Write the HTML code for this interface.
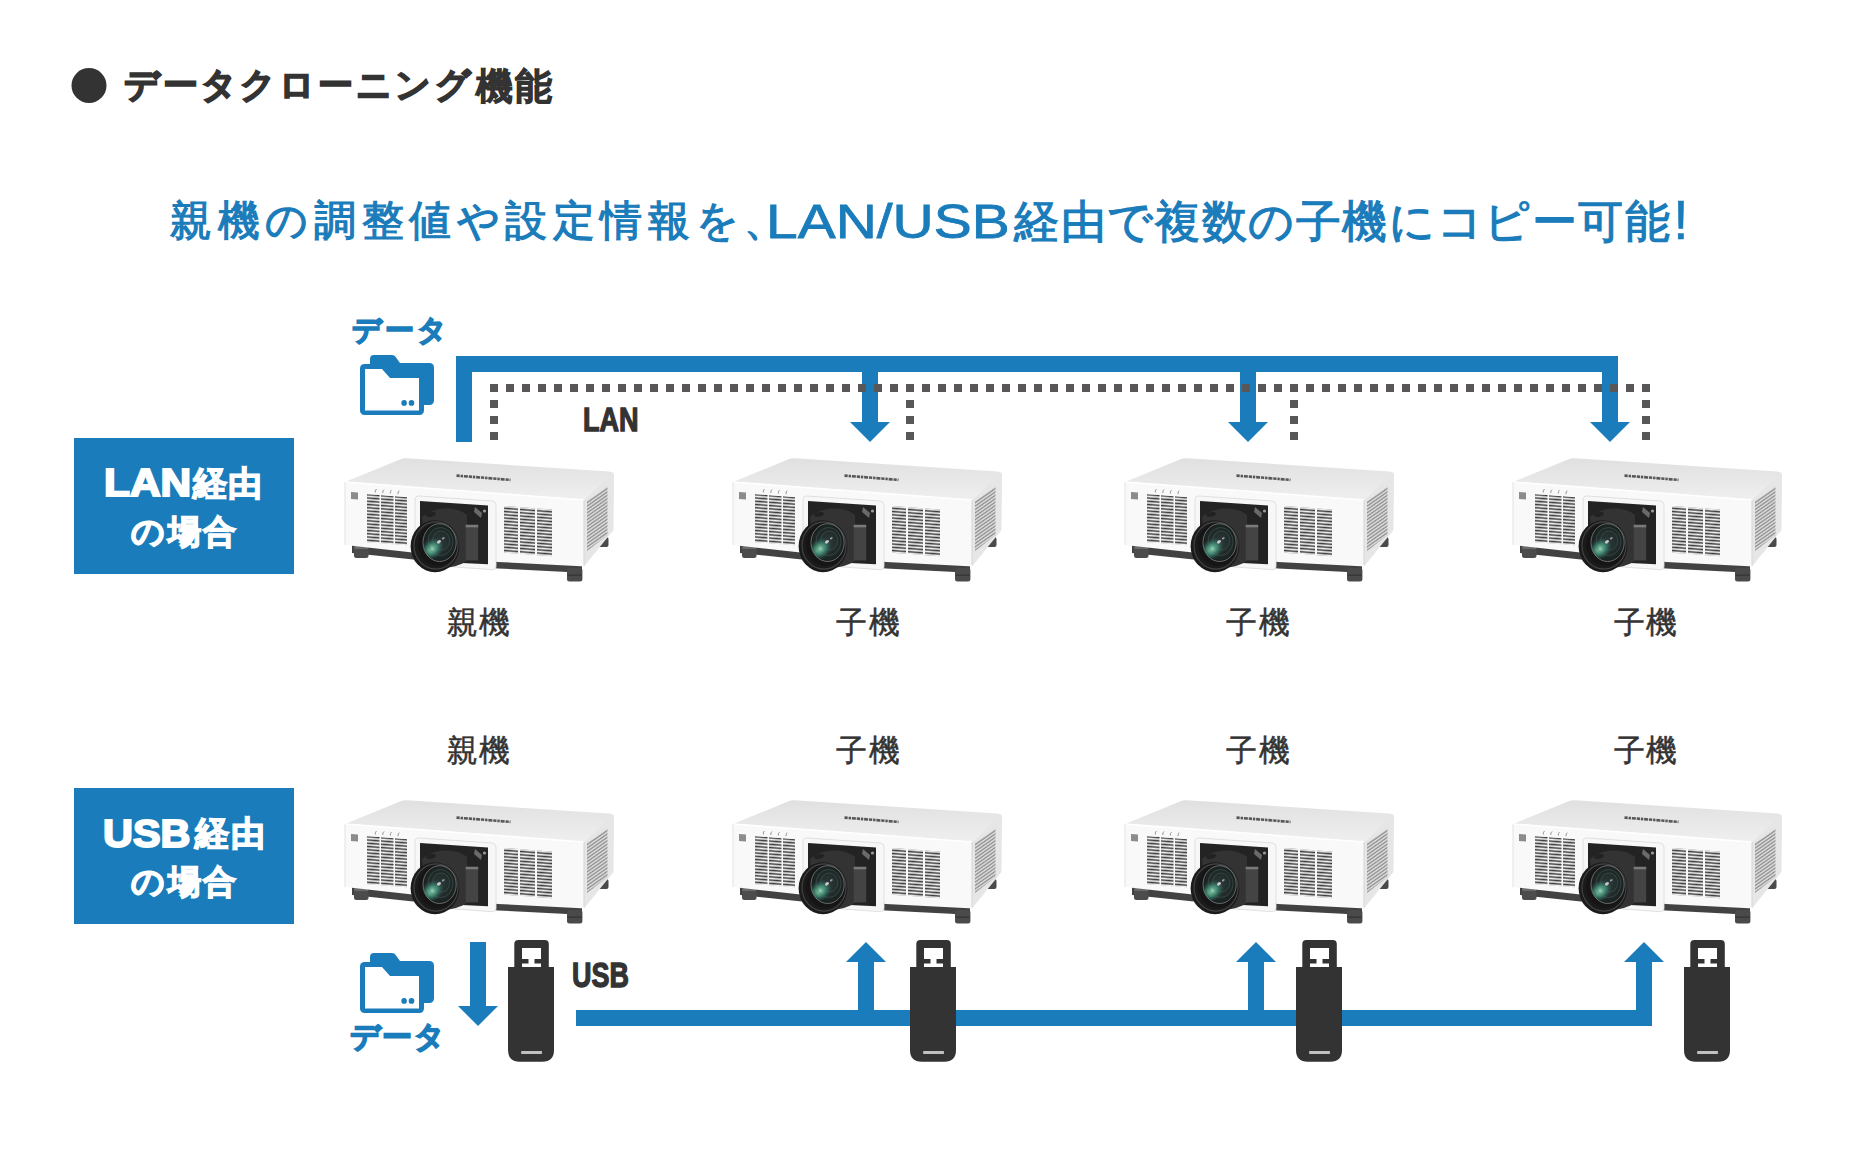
<!DOCTYPE html>
<html lang="ja"><head><meta charset="utf-8"><title>データクローニング機能</title>
<style>
html,body{margin:0;padding:0;background:#fff;}
body{width:1852px;height:1150px;position:relative;overflow:hidden;font-family:"Liberation Sans",sans-serif;}
svg.main{position:absolute;left:0;top:0;}
.t{position:absolute;white-space:nowrap;line-height:1;transform-origin:0 0;}
.box{position:absolute;width:220px;height:136px;background:#1a7cba;}
</style></head>
<body>
<svg class="main" width="1852" height="1150" viewBox="0 0 1852 1150">
<defs>
<pattern id="vent" width="4" height="3.25" patternUnits="userSpaceOnUse">
<rect width="4" height="3.25" fill="#f4f4f4"/><rect y="0.5" width="4" height="1.55" fill="#3a3a3a"/>
</pattern>
<pattern id="sidevent" width="3" height="3.4" patternUnits="userSpaceOnUse" patternTransform="skewY(-35)">
<rect width="3" height="3.4" fill="#e2e2e2"/><rect y="0.5" width="3" height="1.6" fill="#8a8a8a"/>
</pattern>
<linearGradient id="topgrad" x1="0" y1="1" x2="0" y2="0">
<stop offset="0" stop-color="#efefef"/><stop offset="0.6" stop-color="#e6e6e6"/><stop offset="1" stop-color="#e0e0e0"/>
</linearGradient>
<radialGradient id="glass" cx="0.5" cy="0.5" r="0.55">
<stop offset="0" stop-color="#2c3b38"/><stop offset="0.7" stop-color="#1d2826"/><stop offset="1" stop-color="#141a1b"/>
</radialGradient>
<radialGradient id="glow" cx="0.5" cy="0.5" r="0.5">
<stop offset="0" stop-color="#9fe0bf" stop-opacity="0.95"/><stop offset="0.45" stop-color="#4aa585" stop-opacity="0.75"/><stop offset="1" stop-color="#2a6a70" stop-opacity="0"/>
</radialGradient>
<clipPath id="glassclip"><ellipse cx="99.6" cy="92.6" rx="16.6" ry="18.9"/></clipPath>
<symbol id="proj" overflow="visible">
<rect x="258" y="87" width="10.5" height="10" rx="2" fill="#4a4a4a"/>
<path d="M12,94 L158,110 L242,114.5 L242,122.8 L158,118.5 L12,103 Z" fill="#424242"/>
<rect x="14" y="96" width="14.5" height="12" rx="2.5" fill="#4c4c4c"/>
<rect x="14" y="96" width="14.5" height="3" rx="1.5" fill="#6a6a6a"/>
<rect x="227" y="118" width="15.4" height="13.4" rx="2.5" fill="#4a4a4a"/>
<rect x="227.5" y="124.5" width="14.4" height="1.2" fill="#333"/>
<path d="M244,50 L271,23 Q274,21 274,25 L273.5,80 L244,116.5 Z" fill="#e6e6e6"/>
<path d="M247,51 L267.5,36.5 L267.5,85 L247,101 Z" fill="url(#sidevent)"/>
<path d="M5,32 L60,9.5 Q63,8 67,8.3 L269,21.5 Q274,22 271,24.5 L244,50 Z" fill="url(#topgrad)"/>
<path d="M5,32 L244,50 L244,116.5 L241,116.3 L158,112 L5,95 Z" fill="#f9f9f9"/>
<path d="M5,32 L244,50" stroke="#ffffff" stroke-width="1.5"/>
<path d="M5,32 L5,95" stroke="#e2e2e2" stroke-width="1"/>
<path d="M244,50 L244,115" stroke="#d5d5d5" stroke-width="1"/>
<path d="M116.5,25.6 L170.5,29.9" stroke="#3e3e3e" stroke-width="2.6" stroke-dasharray="3.2 0.9 2.4 0.9 4 0.9" opacity="0.85"/>
<g transform="translate(5,32) skewY(4.3)">
<rect x="6" y="9.5" width="7" height="7" fill="#8c8c8c"/>
<path d="M31.6,4.6 Q30,5.6 30.3,8.2" stroke="#8a8a8a" stroke-width="0.9" fill="none"/>
<path d="M39.1,4.6 Q37.5,5.6 37.8,8.2" stroke="#8a8a8a" stroke-width="0.9" fill="none"/>
<path d="M46.6,4.6 Q45,5.6 45.3,8.2" stroke="#8a8a8a" stroke-width="0.9" fill="none"/>
<path d="M54.300000000000004,4.6 Q52.7,5.6 53.0,8.2" stroke="#8a8a8a" stroke-width="0.9" fill="none"/>
<rect x="22" y="10.5" width="12.5" height="48" fill="url(#vent)"/>
<rect x="36" y="10.5" width="12.5" height="48" fill="url(#vent)"/>
<rect x="50" y="10.5" width="12" height="48" fill="url(#vent)"/>
<rect x="159" y="12" width="14" height="46.7" fill="url(#vent)"/>
<rect x="175" y="12" width="15" height="46.7" fill="url(#vent)"/>
<rect x="192" y="12" width="15" height="46.7" fill="url(#vent)"/>
</g>
<path d="M79,46 L152,51 Q156,51.3 156,55 L156,116 Q156,120 152,119.7 L79,114.3 Q75,114 75,110 L75,50 Q75,45.8 79,46 Z" fill="#f7f7f7" stroke="#dcdcdc" stroke-width="0.9"/>
<path d="M80,51 L148,55.6 L148,114.3 L80,111 Z" fill="#232323"/>
<path d="M135,57 L142,63 L141,68 L134,62 Z" fill="#6a6a6a"/>
<circle cx="144.5" cy="61" r="1.6" fill="#9a9a9a"/>
<path d="M82,67 C92,57 116,55 127,65 L128,110 C118,118 100,120 88,116 Z" fill="#333333"/>
<ellipse cx="91" cy="64.5" rx="5" ry="2.2" fill="#222" transform="rotate(-12 91 64.5)"/>
<rect x="125.7" y="74.8" width="12.5" height="35.6" fill="#444"/>
<rect x="125.7" y="74.8" width="12.5" height="2.5" fill="#7a7a7a"/>
<ellipse cx="95" cy="96.2" rx="24.4" ry="26" fill="#1b1b1b"/>
<ellipse cx="96" cy="95.5" rx="22" ry="23.6" fill="none" stroke="#444" stroke-width="1.1"/>
<ellipse cx="97.5" cy="94.5" rx="19.6" ry="21.2" fill="#151515"/>
<ellipse cx="99.6" cy="92.6" rx="16.6" ry="18.9" fill="url(#glass)"/>
<g clip-path="url(#glassclip)">
<ellipse cx="92" cy="99" rx="13" ry="10" fill="url(#glow)" transform="rotate(-40 92 99)"/>
</g>
<ellipse cx="99.6" cy="92.6" rx="16.6" ry="18.9" fill="none" stroke="#8e8e8e" stroke-width="0.7"/>
<ellipse cx="100.5" cy="91.5" rx="12.5" ry="14" fill="none" stroke="#5a6a68" stroke-width="0.5" opacity="0.8"/>
<ellipse cx="101.2" cy="90.6" rx="8.5" ry="9.5" fill="none" stroke="#5a6a68" stroke-width="0.5" opacity="0.8"/>
<ellipse cx="99" cy="91.8" rx="2.2" ry="1.5" fill="#e9d6dc" opacity="0.85" transform="rotate(-35 99 91.8)"/>
<ellipse cx="103.3" cy="88.3" rx="1.6" ry="0.9" fill="#c9c3e6" opacity="0.7" transform="rotate(-35 103.3 88.3)"/>
</symbol>
<symbol id="usb" overflow="visible">
<path d="M6.3,27 L6.3,4 Q6.3,0 10.3,0 L36.8,0 Q40.8,0 40.8,4 L40.8,27 Z" fill="#333"/>
<rect x="14" y="8" width="19" height="19" fill="#fff"/>
<rect x="14" y="19" width="6.5" height="4.5" fill="#333"/>
<rect x="26.5" y="19" width="6.5" height="4.5" fill="#333"/>
<path d="M0,27 L46,27 L46,110 Q46,121.7 34.3,121.7 L11.7,121.7 Q0,121.7 0,110 Z" fill="#333"/>
<rect x="13.2" y="111" width="20.7" height="3" fill="#c0c0c0"/>
</symbol>
<symbol id="folder" overflow="visible">
<path d="M10,12 L10,4 Q10,0 14,0 L32,0 Q34.5,0 35.5,1.8 L40,8 L40,12 Z" fill="#1a7cba"/>
<rect x="10" y="8" width="64" height="42" rx="4.5" fill="#1a7cba"/>
<rect x="0" y="9" width="64" height="51" rx="4.5" fill="#1a7cba"/>
<path d="M5,14 L22,14 L30,23 L59,23 L59,55.5 L5,55.5 Z" fill="#fff"/>
<ellipse cx="44.1" cy="47.9" rx="2.8" ry="2.9" fill="#1a7cba"/>
<ellipse cx="51.5" cy="47.9" rx="2.8" ry="2.9" fill="#1a7cba"/>
</symbol>
</defs>
<circle cx="89" cy="85.5" r="17.5" fill="#333333"/>
<g fill="#1a7cba">
<rect x="456" y="356" width="1162" height="16"/>
<rect x="456" y="356" width="16" height="86"/>
<rect x="862" y="370" width="16" height="53"/>
<path d="M850,422 L890,422 L870,442 Z"/>
<rect x="1240" y="370" width="16" height="53"/>
<path d="M1228,422 L1268,422 L1248,442 Z"/>
<rect x="1602" y="370" width="16" height="53"/>
<path d="M1590,422 L1630,422 L1610,442 Z"/>
</g>
<g stroke="#595757" stroke-width="8" stroke-dasharray="8 8" fill="none">
<path d="M490,388 L1650,388"/>
<path d="M494,400 L494,440"/>
<path d="M910,400 L910,440"/>
<path d="M1294,400 L1294,440"/>
<path d="M1646,400 L1646,440"/>
</g>
<use href="#folder" x="360" y="355"/>
<use href="#folder" x="360" y="953"/>
<use href="#proj" x="340" y="450"/>
<use href="#proj" x="728" y="450"/>
<use href="#proj" x="1120" y="450"/>
<use href="#proj" x="1508" y="450"/>
<use href="#proj" x="340" y="792"/>
<use href="#proj" x="728" y="792"/>
<use href="#proj" x="1120" y="792"/>
<use href="#proj" x="1508" y="792"/>
<g fill="#1a7cba">
<rect x="470" y="942" width="16" height="65"/>
<path d="M458,1006 L498,1006 L478,1026 Z"/>
<rect x="576" y="1010" width="1076" height="16"/>
<rect x="858" y="961" width="16" height="50"/>
<path d="M846,962 L886,962 L866,942 Z"/>
<rect x="1248" y="961" width="16" height="50"/>
<path d="M1236,962 L1276,962 L1256,942 Z"/>
<rect x="1636" y="961" width="16" height="50"/>
<path d="M1624,962 L1664,962 L1644,942 Z"/>
</g>
<use href="#usb" x="508" y="940"/>
<use href="#usb" x="910" y="940"/>
<use href="#usb" x="1296" y="940"/>
<use href="#usb" x="1684" y="940"/>
</svg>
<div class="box" style="left:74px;top:438px"></div>
<div class="box" style="left:74px;top:788px"></div>
<div class="t" id="title1" style="left:124.00px;top:67.20px;font-size:35.31px;color:#333333;font-weight:bold;letter-spacing:3.07px;-webkit-text-stroke:1.6px #333333;">データクローニング</div>
<div class="t" id="title2" style="left:476.00px;top:68.55px;font-size:36.86px;color:#333333;font-weight:bold;letter-spacing:2.35px;-webkit-text-stroke:1.0px #333333;">機能</div>
<div class="t" id="sub1" style="left:170.30px;top:200.10px;font-size:42.25px;color:#1a7cba;letter-spacing:5.57px;-webkit-text-stroke:1.2px #1a7cba;">親機の調整値や設定情報を、</div>
<div class="t" id="sub2" style="left:765.70px;top:196.65px;font-size:48.60px;color:#1a7cba;-webkit-text-stroke:0.8px #1a7cba;transform:scaleX(1.1718);">LAN/USB</div>
<div class="t" id="sub3" style="left:1014.25px;top:199.60px;font-size:44.83px;color:#1a7cba;letter-spacing:1.60px;-webkit-text-stroke:1.2px #1a7cba;">経由で複数の子機にコピー可能</div>
<div class="t" id="sub4" style="left:1673.30px;top:193.15px;font-size:54.77px;color:#1a7cba;-webkit-text-stroke:0.6px #1a7cba;">!</div>
<div class="t" id="data1" style="left:351.50px;top:315.20px;font-size:29.30px;color:#1a7cba;font-weight:bold;letter-spacing:3.14px;-webkit-text-stroke:1.5px #1a7cba;">データ</div>
<div class="t" id="data2" style="left:350.00px;top:1021.75px;font-size:29.58px;color:#1a7cba;font-weight:bold;letter-spacing:1.38px;-webkit-text-stroke:1.5px #1a7cba;">データ</div>
<div class="t" id="lan" style="left:583.10px;top:403.00px;font-size:33.33px;color:#333333;font-weight:bold;-webkit-text-stroke:1.3px #333333;transform:scaleX(0.8111);">LAN</div>
<div class="t" id="usb" style="left:572.30px;top:958.00px;font-size:34.83px;color:#333333;font-weight:bold;-webkit-text-stroke:1.3px #333333;transform:scaleX(0.7741);">USB</div>
<div class="t" id="b1lat" style="left:104.25px;top:464.25px;font-size:38.41px;color:#ffffff;font-weight:bold;-webkit-text-stroke:2.0px #ffffff;transform:scaleX(1.1033);">LAN</div>
<div class="t" id="b1cjk" style="left:193.25px;top:466.40px;font-size:34.00px;color:#ffffff;font-weight:bold;letter-spacing:1.17px;-webkit-text-stroke:1.4px #ffffff;">経由</div>
<div class="t" id="b1l2" style="left:131.15px;top:515.20px;font-size:33.31px;color:#ffffff;font-weight:bold;letter-spacing:2.62px;-webkit-text-stroke:1.4px #ffffff;">の場合</div>
<div class="t" id="b2lat" style="left:103.45px;top:814.95px;font-size:38.64px;color:#ffffff;font-weight:bold;-webkit-text-stroke:2.0px #ffffff;transform:scaleX(1.0716);">USB</div>
<div class="t" id="b2cjk" style="left:195.35px;top:816.40px;font-size:34.00px;color:#ffffff;font-weight:bold;letter-spacing:2.07px;-webkit-text-stroke:1.4px #ffffff;">経由</div>
<div class="t" id="b2l2" style="left:131.15px;top:865.20px;font-size:33.31px;color:#ffffff;font-weight:bold;letter-spacing:2.62px;-webkit-text-stroke:1.4px #ffffff;">の場合</div>
<div class="t" id="lab00" style="left:446.90px;top:606.95px;font-size:30.65px;color:#333333;letter-spacing:1.07px;-webkit-text-stroke:0.5px #333333;">親機</div>
<div class="t" id="lab01" style="left:836.20px;top:606.95px;font-size:30.65px;color:#333333;letter-spacing:1.60px;-webkit-text-stroke:0.5px #333333;">子機</div>
<div class="t" id="lab02" style="left:1226.25px;top:606.95px;font-size:30.65px;color:#333333;letter-spacing:1.34px;-webkit-text-stroke:0.5px #333333;">子機</div>
<div class="t" id="lab03" style="left:1614.15px;top:606.95px;font-size:30.65px;color:#333333;letter-spacing:1.15px;-webkit-text-stroke:0.5px #333333;">子機</div>
<div class="t" id="lab10" style="left:446.90px;top:735.35px;font-size:30.65px;color:#333333;letter-spacing:1.07px;-webkit-text-stroke:0.5px #333333;">親機</div>
<div class="t" id="lab11" style="left:836.20px;top:735.35px;font-size:30.65px;color:#333333;letter-spacing:1.60px;-webkit-text-stroke:0.5px #333333;">子機</div>
<div class="t" id="lab12" style="left:1226.25px;top:735.35px;font-size:30.65px;color:#333333;letter-spacing:1.34px;-webkit-text-stroke:0.5px #333333;">子機</div>
<div class="t" id="lab13" style="left:1614.15px;top:735.35px;font-size:30.65px;color:#333333;letter-spacing:1.15px;-webkit-text-stroke:0.5px #333333;">子機</div>
</body></html>
